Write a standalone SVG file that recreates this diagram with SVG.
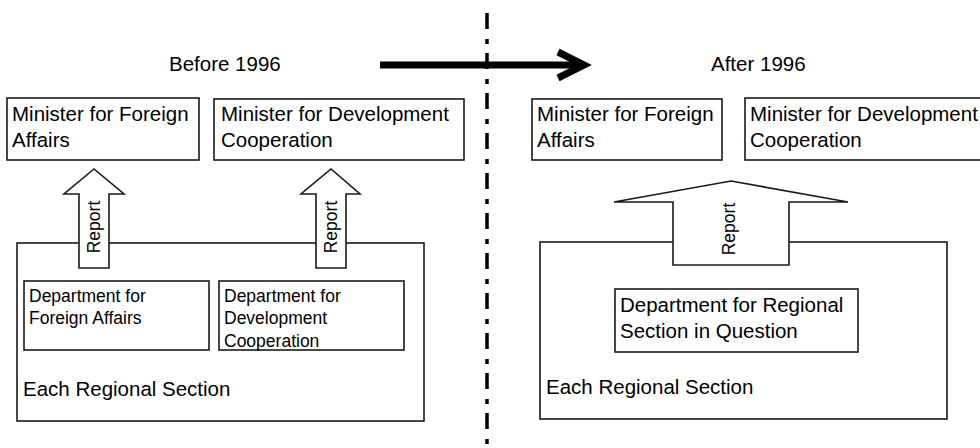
<svg xmlns="http://www.w3.org/2000/svg" width="980" height="448" viewBox="0 0 980 448">
<style>
.box{fill:#fff;stroke:#1a1a1a;stroke-width:1.6}
.arr{fill:#fff;stroke:#1a1a1a;stroke-width:1.6;stroke-linejoin:miter}
.t{font-family:"Liberation Sans",Arial,sans-serif;fill:#000}
.big{font-size:20.5px}
.sm{font-size:17.5px}
</style>
<rect width="980" height="448" fill="#fff"/>
<g id="divider">
<line x1="487" y1="13" x2="487" y2="448" stroke="#000" stroke-width="3.5" stroke-dasharray="16 10 5 9"/>
</g>
<g id="timeline-arrow">
<line x1="380" y1="65" x2="582" y2="65" stroke="#000" stroke-width="7"/>
<polyline points="558,52 584,65 558,78" fill="none" stroke="#000" stroke-width="7" stroke-linejoin="miter"/>
</g>
<text class="t big" x="169" y="71">Before 1996</text>
<text class="t big" x="711" y="71">After 1996</text>
<g id="left-minister-fa">
<rect class="box" x="7" y="98" width="192" height="62"/>
<text class="t big" x="12" y="121">Minister for Foreign</text>
<text class="t big" x="12" y="147">Affairs</text>
</g>
<g id="left-minister-dc">
<rect class="box" x="214" y="99" width="250" height="61"/>
<text class="t big" x="221" y="121">Minister for Development</text>
<text class="t big" x="221" y="147">Cooperation</text>
</g>
<g id="left-section">
<rect class="box" x="17" y="243" width="407" height="178"/>
<text class="t big" x="23" y="396">Each Regional Section</text>
</g>
<g id="left-dept-fa">
<rect class="box" x="24" y="281" width="185" height="69"/>
<text class="t sm" x="29" y="302">Department for</text>
<text class="t sm" x="29" y="324">Foreign Affairs</text>
</g>
<g id="left-dept-dc">
<rect class="box" x="219" y="281" width="185" height="69"/>
<text class="t sm" x="224" y="302">Department for</text>
<text class="t sm" x="224" y="324">Development</text>
<text class="t sm" x="224" y="347">Cooperation</text>
</g>
<g id="connectors">
<polygon class="arr" points="79,268 79,194 64,194 94,169 124,194 109,194 109,268"/>
<text class="t sm" text-anchor="middle" transform="translate(100,227) rotate(-90)">Report</text>
<polygon class="arr" points="316,268 316,194 301,194 331,169 360,194 346,194 346,268"/>
<text class="t sm" text-anchor="middle" transform="translate(337,227) rotate(-90)">Report</text>
</g>
<g id="right-minister-fa">
<rect class="box" x="532" y="99" width="190" height="61"/>
<text class="t big" x="537" y="121">Minister for Foreign</text>
<text class="t big" x="537" y="147">Affairs</text>
</g>
<g id="right-minister-dc">
<rect class="box" x="745" y="98" width="250" height="62"/>
<text class="t big" x="750" y="121">Minister for Development</text>
<text class="t big" x="750" y="147">Cooperation</text>
</g>
<g id="right-section">
<rect class="box" x="540" y="242" width="407" height="177"/>
<text class="t big" x="546" y="394">Each Regional Section</text>
</g>
<g id="right-dept">
<rect class="box" x="615" y="289" width="243" height="63"/>
<text class="t big" x="620" y="312">Department for Regional</text>
<text class="t big" x="620" y="338">Section in Question</text>
</g>
<g id="connectors-right">
<polygon class="arr" points="673,265 673,202 614,202 731,181 848,202 789,202 789,265"/>
<text class="t sm" text-anchor="middle" transform="translate(735,229) rotate(-90)">Report</text>
</g>
</svg>
